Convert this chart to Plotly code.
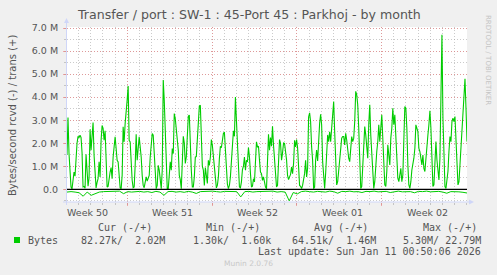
import plotly.graph_objects as go
import pandas as pd

# ---------------- data ----------------
END = pd.Timestamp("2026-01-11 00:50:06")
START = END - pd.Timedelta(days=33)

# trans (+), in M bytes/second, ~2h resolution
trans_m = [
 1.5, 3.12, 1.55, 0.6, 0.1, 0.02, 0.3, 0.75, 0.57, 1.38, 2.0, 2.3, 2.25, 2.35, 2.25, 1.6, 0.1, 0.12, 0.05, 1.52,
 0.9, 0.13, 0.5, 2.6, 1.7, 2.42, 2.9, 1.48, 0.9, 0.06, 0.3, 0.46, 1.19, 0.54, 2.13, 2.77, 2.64, 2.13, 2.54, 1.4,
 0.1, 0.13, 0.5, 0.75, 0.94, 0.46, 1.4, 1.77, 2.28, 1.77, 1.26, 1.19, 0.68, 0.07, 0.03, 0.6, 2.71, 2.06, 2.86, 3.29,
 3.87, 4.48, 2.13, 2.06, 0.83, 0.39, 0.07, 0.1, 1.04, 2.39, 1.26, 2.01, 2.28, 1.84, 1.4, 0.6, 0.17, 0.07, 0.32, 0.54,
 0.36, 0.54, 0.6, 1.4, 1.91, 2.42, 2.35, 1.33, 0.68, 0.03, 0.17, 1.04, 0.83, 0.25, 0.03, 0.83, 4.74, 3.87, 2.57, 1.4,
 0.03, 0.03, 0.6, 1.19, 0.83, 1.77, 1.55, 3.29, 3.07, 2.57, 2.35, 1.7, 0.6, 0.42, 0.03, 1.26, 2.3, 2.01, 1.12, 1.4,
 2.06, 3.17, 3.22, 1.33, 0.83, 0.1, 0.1, 0.54, 1.4, 1.42, 2.13, 3.17, 3.61, 3.65, 2.5, 1.0, 0.83, 0.17, 0.94, 0.68,
 0.25, 1.26, 1.04,
 1.4, 2.16, 1.91, 1.4, 0.83, 0.25, 0.06, 0.17, 0.54, 1.33, 1.87, 1.81, 2.25, 2.42, 2.49, 1.77, 0.54, 0.22, 0.03, 0.17,
 0.54, 1.23, 1.84, 2.54, 2.3, 4.01, 3.0, 1.99, 0.9, 0.1, 0.07, 0.32, 0.86, 1.0, 1.4, 0.83, 1.26, 1.19, 1.81, 1.4,
 0.68, 0.1, 0.13, 0.46, 0.32, 1.4, 2.06, 1.84, 1.87, 1.26, 0.75, 0.68, 0.39, 0.54, 0.25, 0.1, 0.03, 1.26, 2.39, 1.7,
 2.25, 1.87, 2.74, 1.91, 1.26, 0.39, 0.1, 0.17, 0.9, 2.16, 1.99, 1.26, 1.58, 2.01, 1.99, 1.72, 1.28, 0.6, 0.42, 0.54,
 0.65, 0.97, 0.68, 1.12, 2.13, 1.84, 2.16, 1.81, 0.6, 0.17, 0.13, 0.03, 0.17, 0.39, 0.68, 1.26, 0.54, 0.9, 3.14, 3.32,
 2.93, 1.84, 1.26, 0.03, 0.1, 1.26, 1.7, 1.23, 2.3, 2.86, 3.26, 2.8, 1.2,
 0.48, 0.04, 0.7, 1.78, 2.36, 2.07, 2.5, 2.07, 2.8, 3.38, 3.81, 2.5, 0.77, 0.19, 0.33, 0.91, 1.49, 2.0, 2.22, 2.29,
 2.29, 1.93, 2.43, 2.14, 1.64, 1.35, 1.2, 1.78, 2.29, 2.07, 2.22, 2.94, 4.25, 4.1, 3.67, 2.65, 1.06, 0.04, 0.12, 0.91,
 1.64, 2.72, 2.36, 1.93, 1.35, 2.8, 3.67, 2.36, 1.35, 0.33, 0.04, 0.33, 1.2, 1.64, 2.07, 2.8, 2.07, 2.8, 3.23, 2.22,
 1.06, 0.19, 0.12, 0.77, 1.93, 1.49, 1.06, 2.22, 2.65, 3.52, 2.8, 3.23, 2.07, 1.06, 0.48, 0.33, 0.77, 0.91, 0.33, 0.62,
 2.14, 3.59, 3.52, 2.65, 1.06, 0.19, 0.04, 0.33, 0.84, 1.06, 1.35, 1.78, 2.8, 2.65, 2.5, 1.78, 1.64, 1.35, 1.06, 1.49,
 0.91, 0.77, 1.2, 1.78, 2.36, 2.8, 3.41, 2.65, 0.77, 0.12, 0.19, 1.06, 2.07, 1.28, 0.77, 0.41, 1.35, 4.25, 6.71, 3.09,
 1.06, 0.12, 0.04, 0.48, 0.77, 1.64, 2.29, 2.07, 2.94, 3.09, 2.94, 3.16, 2.36, 1.35, 0.19, 0.33, 1.06, 1.64, 2.36, 2.8,
 3.96, 4.8, 3.52, 2.07,
]

# rcvd (-), in M bytes/second, ~8h resolution (drawn negative)
rcvd_m = [
 0.12, 0.10, 0.12, 0.15, 0.30, 0.12, 0.26, 0.18, 0.12, 0.10, 0.09, 0.11, 0.10, 0.08, 0.19, 0.10, 0.12, 0.10, 0.09, 0.12,
 0.10, 0.14, 0.09, 0.12, 0.26, 0.10, 0.09, 0.12, 0.10, 0.13, 0.09, 0.12, 0.18, 0.10, 0.09, 0.11, 0.08, 0.10, 0.12, 0.09,
 0.10, 0.12, 0.10, 0.33, 0.10, 0.09, 0.12, 0.10, 0.09, 0.11, 0.10, 0.08, 0.12, 0.10, 0.12, 0.50, 0.14, 0.20, 0.10, 0.08,
 0.10, 0.12, 0.09, 0.10, 0.12, 0.08, 0.10, 0.17, 0.09, 0.10, 0.08, 0.11, 0.10, 0.14, 0.09, 0.10, 0.08, 0.11, 0.10, 0.09,
 0.14, 0.10, 0.08, 0.11, 0.09, 0.10, 0.15, 0.09, 0.10, 0.08, 0.11, 0.10, 0.09, 0.12, 0.17, 0.10, 0.09, 0.11, 0.13, 0.16,
]

week_starts = ["2025-12-14", "2025-12-21", "2025-12-28", "2026-01-04"]
week_labels = ["Week 50", "Week 51", "Week 52", "Week 01", "Week 02"]
week_label_at = ["2025-12-10 18:00", "2025-12-17 18:00", "2025-12-24 18:00",
                 "2025-12-31 18:00", "2026-01-07 18:00"]

ytick_vals_m = [0, 1, 2, 3, 4, 5, 6, 7]
ytick_text = ["0.0", "1.0 M", "2.0 M", "3.0 M", "4.0 M", "5.0 M", "6.0 M", "7.0 M"]

title_text = "Transfer / port : SW-1 : 45-Port 45 : Parkhoj - by month"
ytitle_text = "Bytes/second rcvd (-) / trans (+)"
series_name = "Bytes"
legend_heads = ["Cur (-/+)", "Min (-/+)", "Avg (-/+)", "Max (-/+)"]
legend_vals = ["82.27k/  2.02M", "1.30k/  1.60k", "64.51k/  1.46M", "5.30M/ 22.79M"]
last_update = "Last update: Sun Jan 11 00:50:06 2026"
munin_ver = "Munin 2.0.76"
rrd_credit = "RRDTOOL / TOBI OETIKER"

# ---------------- layout geometry ----------------
W, H = 497, 275
L, R, T, B = 67, 467, 27, 202
Y_LO, Y_HI = -0.551e6, 7.044e6

def xp(px):
    return (px - L) / (R - L)

def yp(py):
    return (B - py) / (B - T)

GREEN = "#00CC00"
FONT = "DejaVu Sans"
MONO = "DejaVu Sans Mono"
TXT = "#555555"
AXIS = "#CFD6F8"
MGRID = "rgba(235,120,120,0.6)"
GRID = "rgba(160,160,160,0.55)"

t_trans = pd.date_range(START, END, periods=len(trans_m))
t_rcvd = pd.date_range(START, END, periods=len(rcvd_m))

fig = go.Figure()
fig.add_trace(go.Scatter(x=t_rcvd, y=[-v * 1e6 for v in rcvd_m], mode="lines",
                         line=dict(color=GREEN, width=1.0), hoverinfo="skip", showlegend=False))
fig.add_trace(go.Scatter(x=t_trans, y=[v * 1e6 for v in trans_m], mode="lines",
                         line=dict(color=GREEN, width=1.1), hoverinfo="skip", showlegend=False))

fig.update_layout(
    width=W, height=H,
    margin=dict(l=L, r=W - R, t=T, b=H - B, pad=0),
    paper_bgcolor="#F0F0F0", plot_bgcolor="#FFFFFF",
    showlegend=False,
    font=dict(family=FONT, color=TXT, size=10),
)

fig.update_xaxes(
    type="date", range=[START, END],
    tickmode="array", tickvals=week_starts, showticklabels=False,
    showgrid=True, gridcolor=MGRID, griddash="1px,2px", gridwidth=1,
    ticks="outside", ticklen=3, tickcolor=MGRID,
    minor=dict(tickmode="linear", tick0="2025-12-14", dtick=86400000,
               showgrid=True, gridcolor=GRID, griddash="1px,2px", gridwidth=1,
               ticks="outside", ticklen=2, tickcolor=GRID),
    showline=False, zeroline=False, fixedrange=True,
)
fig.update_yaxes(
    range=[Y_LO, Y_HI],
    tickmode="array", tickvals=[v * 1e6 for v in ytick_vals_m], ticktext=ytick_text,
    tickfont=dict(family=FONT, size=9.5, color=TXT),
    showgrid=True, gridcolor=MGRID, griddash="1px,2px", gridwidth=1,
    ticks="outside", ticklen=3, tickcolor=MGRID, ticklabelstandoff=3,
    minor=dict(tickmode="linear", tick0=0, dtick=0.5e6,
               showgrid=True, gridcolor=GRID, griddash="1px,2px", gridwidth=1,
               ticks="outside", ticklen=2, tickcolor=GRID),
    showline=False, zeroline=False, fixedrange=True,
)

shapes = []
# zero rule
shapes.append(dict(type="line", xref="paper", yref="y", x0=0, x1=1, y0=0, y1=0,
                   line=dict(color="#000000", width=1.3), layer="above"))
# axes with arrows
shapes.append(dict(type="line", xref="paper", yref="paper", x0=xp(63), x1=xp(470),
                   y0=yp(202), y1=yp(202), line=dict(color=AXIS, width=1), layer="above"))
shapes.append(dict(type="path", xref="paper", yref="paper",
                   path=f"M {xp(469)} {yp(199.5)} L {xp(474)} {yp(202)} L {xp(469)} {yp(204.5)} Z",
                   fillcolor=AXIS, line=dict(color=AXIS, width=0), layer="above"))
shapes.append(dict(type="line", xref="paper", yref="paper", x0=xp(66.5), x1=xp(66.5),
                   y0=yp(205), y1=yp(22), line=dict(color=AXIS, width=1), layer="above"))
shapes.append(dict(type="path", xref="paper", yref="paper",
                   path=f"M {xp(64)} {yp(23)} L {xp(66.5)} {yp(18)} L {xp(69)} {yp(23)} Z",
                   fillcolor=AXIS, line=dict(color=AXIS, width=0), layer="above"))
# legend colour box
shapes.append(dict(type="rect", xref="paper", yref="paper", x0=xp(14), x1=xp(20),
                   y0=yp(243), y1=yp(237), fillcolor=GREEN, line=dict(width=0)))
fig.update_layout(shapes=shapes)

ann = []
def A(text, X, Y, anchor="center", size=10, family=FONT, color=TXT, angle=0, xref="paper", xval=None):
    ann.append(dict(text=text, xref=xref, yref="paper",
                    x=xval if xval is not None else xp(X), y=yp(Y),
                    xanchor=anchor, yanchor="middle", showarrow=False, textangle=angle,
                    font=dict(family=family, size=size, color=color)))

A(title_text, 248.5, 14, size=12.6)
A(ytitle_text, 12, 116, size=10, angle=-90)
for lab, at in zip(week_labels, week_label_at):
    A(lab, None, 212.5, size=9.5, xref="x", xval=at)
A(rrd_credit, 488, 60, size=7, color="#C4C4C4", angle=90)

nb = lambda s: s.replace(" ", "\u00a0")
head_centers = [125, 233, 341, 450]
val_rights = [167, 273, 378, 483]
for h, cx in zip(legend_heads, head_centers):
    A(nb(h), cx, 227, size=10, family=MONO)
A(series_name, 26, 240, anchor="left", size=10, family=MONO)
for v, rx in zip(legend_vals, val_rights):
    A(nb(v), rx, 240, anchor="right", size=10, family=MONO)
A(nb(last_update), 483, 252, anchor="right", size=10, family=MONO)
A(munin_ver, 248, 263.5, size=7.5, color="#C8C8C8")

fig.update_layout(annotations=ann)

fig.write_html("out.html")
